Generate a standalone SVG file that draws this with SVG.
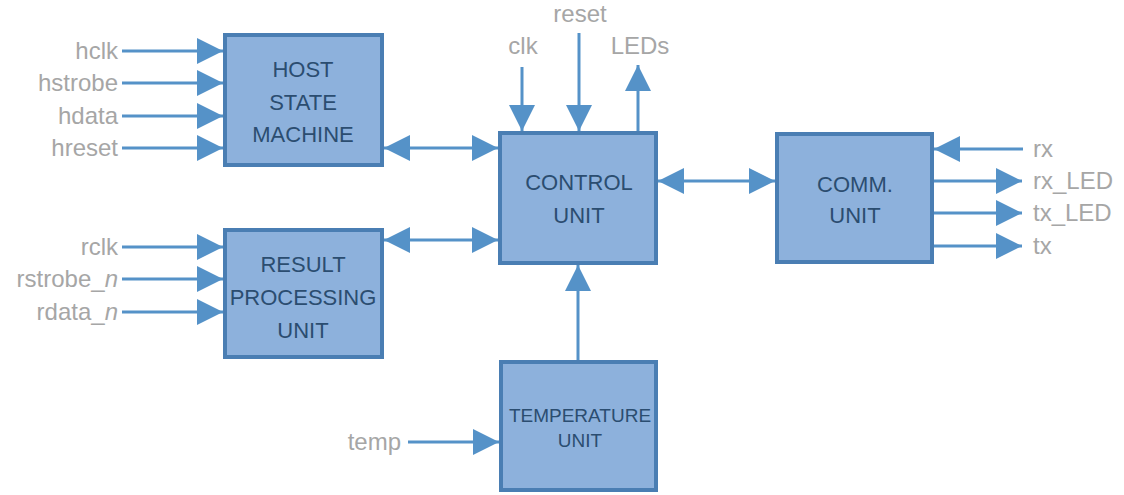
<svg xmlns="http://www.w3.org/2000/svg" width="1124" height="495" viewBox="0 0 1124 495">
<style>
.box{fill:#8db1dc;stroke:#4a7eb3;stroke-width:4}
.bt{font-family:"Liberation Sans",Arial,sans-serif;font-size:22px;fill:#2b4d70;text-anchor:middle}
.lbl{font-family:"Liberation Sans",Arial,sans-serif;font-size:24px;fill:#a6a6a6}
.c{stroke:#5592c8;stroke-width:3;fill:none}
</style>
<defs>
<marker id="ah" markerUnits="userSpaceOnUse" markerWidth="26" markerHeight="26" refX="26" refY="13" orient="auto-start-reverse">
<path d="M0,0 L26,13 L0,26 z" fill="#5592c8"/>
</marker>
</defs>
<rect width="1124" height="495" fill="#ffffff"/>
<g id="connectors">
<line class="c" x1="122" y1="51" x2="223" y2="51" marker-end="url(#ah)"/>
<line class="c" x1="122" y1="83" x2="223" y2="83" marker-end="url(#ah)"/>
<line class="c" x1="122" y1="116" x2="223" y2="116" marker-end="url(#ah)"/>
<line class="c" x1="122" y1="148" x2="223" y2="148" marker-end="url(#ah)"/>
<line class="c" x1="122" y1="247" x2="223" y2="247" marker-end="url(#ah)"/>
<line class="c" x1="122" y1="279" x2="223" y2="279" marker-end="url(#ah)"/>
<line class="c" x1="122" y1="312" x2="223" y2="312" marker-end="url(#ah)"/>
<line class="c" x1="384" y1="148" x2="498" y2="148" marker-start="url(#ah)" marker-end="url(#ah)"/>
<line class="c" x1="384" y1="240" x2="498" y2="240" marker-start="url(#ah)" marker-end="url(#ah)"/>
<line class="c" x1="658" y1="181" x2="775" y2="181" marker-start="url(#ah)" marker-end="url(#ah)"/>
<line class="c" x1="522" y1="67" x2="522" y2="131" marker-end="url(#ah)"/>
<line class="c" x1="579" y1="33" x2="579" y2="131" marker-end="url(#ah)"/>
<line class="c" x1="638" y1="131" x2="638" y2="65" marker-end="url(#ah)"/>
<line class="c" x1="578" y1="360" x2="578" y2="265" marker-end="url(#ah)"/>
<line class="c" x1="408" y1="442" x2="499" y2="442" marker-end="url(#ah)"/>
<line class="c" x1="1023" y1="149" x2="934" y2="149" marker-end="url(#ah)"/>
<line class="c" x1="934" y1="181" x2="1022" y2="181" marker-end="url(#ah)"/>
<line class="c" x1="934" y1="213" x2="1022" y2="213" marker-end="url(#ah)"/>
<line class="c" x1="934" y1="246" x2="1022" y2="246" marker-end="url(#ah)"/>
</g>
<g id="host">
<rect class="box" x="225" y="35" width="157" height="130"/>
<text class="bt" x="303" y="77">HOST</text>
<text class="bt" x="303" y="110">STATE</text>
<text class="bt" x="303" y="142">MACHINE</text>
</g>
<g id="result">
<rect class="box" x="225" y="230" width="157" height="127"/>
<text class="bt" x="303" y="272">RESULT</text>
<text class="bt" x="303" y="305">PROCESSING</text>
<text class="bt" x="303" y="338">UNIT</text>
</g>
<g id="control">
<rect class="box" x="500" y="133" width="156" height="130"/>
<text class="bt" x="579" y="190">CONTROL</text>
<text class="bt" x="579" y="223">UNIT</text>
</g>
<g id="comm">
<rect class="box" x="777" y="134" width="155" height="128"/>
<text class="bt" x="855" y="192">COMM.</text>
<text class="bt" x="855" y="223">UNIT</text>
</g>
<g id="temperature">
<rect class="box" x="501" y="362" width="155" height="128"/>
<text class="bt" x="580" y="422" style="font-size:19px">TEMPERATURE</text>
<text class="bt" x="580" y="447" style="font-size:19px">UNIT</text>
</g>
<g id="labels">
<text class="lbl" x="118" y="59" text-anchor="end">hclk</text>
<text class="lbl" x="118" y="91" text-anchor="end">hstrobe</text>
<text class="lbl" x="118" y="124" text-anchor="end">hdata</text>
<text class="lbl" x="118" y="156" text-anchor="end">hreset</text>
<text class="lbl" x="118" y="255" text-anchor="end">rclk</text>
<text class="lbl" x="118" y="287" text-anchor="end">rstrobe_<tspan font-style="italic">n</tspan></text>
<text class="lbl" x="118" y="320" text-anchor="end">rdata_<tspan font-style="italic">n</tspan></text>
<text class="lbl" x="401" y="450" text-anchor="end">temp</text>
<text class="lbl" x="580" y="22" text-anchor="middle">reset</text>
<text class="lbl" x="523" y="54" text-anchor="middle">clk</text>
<text class="lbl" x="640" y="54" text-anchor="middle">LEDs</text>
<text class="lbl" x="1033" y="157">rx</text>
<text class="lbl" x="1033" y="189">rx_LED</text>
<text class="lbl" x="1033" y="221">tx_LED</text>
<text class="lbl" x="1033" y="254">tx</text>
</g>
</svg>
